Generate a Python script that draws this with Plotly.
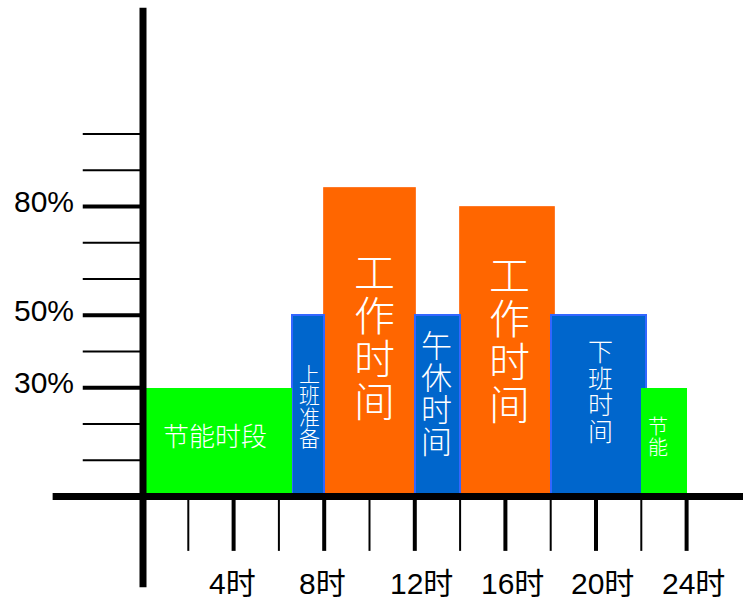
import plotly.graph_objects as go

# ---- data ----
seg_start = [0, 6.6, 8, 12, 14, 18, 22]
seg_end = [6.6, 8, 12.05, 14, 18.2, 22.2, 24]
seg_value = [30, 50, 85, 50, 80, 50, 30]
seg_kind = ["green", "blue", "orange", "blue", "orange", "blue", "green"]
seg_label = ["节能时段", "上班准备", "工作时间", "午休时间", "工作时间", "下班时间", "节能"]

y_tick_values = [10, 20, 30, 40, 50, 60, 70, 80, 90, 100]
y_label_values = [30, 50, 80]
y_label_text = ["30%", "50%", "80%"]
x_tick_values = [2, 4, 6, 8, 10, 12, 14, 16, 18, 20, 22, 24]
x_label_values = [4, 8, 12, 16, 20, 24]
x_label_text = ["4时", "8时", "12时", "16时", "20时", "24时"]

# ---- styling / layout ----
W, H = 743, 601
X0_PX, PX_PER_H = 143.0, 22.65
Y0_PX, PX_PER_PCT = 496.5, 3.625
xr = [-X0_PX / PX_PER_H, (W - X0_PX) / PX_PER_H]
yr = [-(H - Y0_PX) / PX_PER_PCT, Y0_PX / PX_PER_PCT]

fill = {"green": "#00FF00", "blue": "#0066CC", "orange": "#FF6600"}
edge = {"green": "#00FF00", "blue": "#3366FF", "orange": "#FF7A2A"}
edge_w = {"green": 0, "blue": 2, "orange": 1}

fig = go.Figure()
for kind in ["orange", "blue", "green"]:
    idx = [i for i, k in enumerate(seg_kind) if k == kind]
    fig.add_trace(go.Bar(
        x=[(seg_start[i] + seg_end[i]) / 2 for i in idx],
        y=[seg_value[i] for i in idx],
        width=[seg_end[i] - seg_start[i] for i in idx],
        marker=dict(color=fill[kind], line=dict(color=edge[kind], width=edge_w[kind])),
        hoverinfo="skip", showlegend=False,
    ))

shapes = []
# axes
shapes.append(dict(type="line", xref="x", yref="y", x0=0, x1=0, y0=-25, y1=134.8,
                   line=dict(color="black", width=7)))
shapes.append(dict(type="line", xref="x", yref="y", x0=-3.99, x1=xr[1] + 1, y0=0, y1=0,
                   line=dict(color="black", width=7)))
# y ticks
for v in y_tick_values:
    w = 4 if v in y_label_values else 2
    shapes.append(dict(type="line", xref="x", yref="y", x0=-2.66, x1=0, y0=v, y1=v,
                       line=dict(color="black", width=w)))
# x ticks
for h in x_tick_values:
    w = 4 if h % 4 == 0 else 2
    shapes.append(dict(type="line", xref="x", yref="y", x0=h, x1=h, y0=0, y1=-15,
                       line=dict(color="black", width=w)))

ann = []
num_font = dict(family="Liberation Sans, Arial, Noto Sans CJK SC", size=30, color="black")
for v, t in zip(y_label_values, y_label_text):
    ann.append(dict(x=-2.95, y=v, text=t, xref="x", yref="y", xanchor="right",
                    yanchor="middle", yshift=5, showarrow=False, font=num_font))
for h, t in zip(x_label_values, x_label_text):
    ann.append(dict(x=h - 1.18, y=-24.1, text=t, xref="x", yref="y", xanchor="left",
                    yanchor="middle", showarrow=False, font=num_font))

# in-bar labels: (x center h, y center %, font size, pitch px, vertical)
label_pos = [
    (3.18, 17.0, 26, 0, False),
    (7.37, 25.2, 21, 21.5, True),
    (10.2, 44.7, 41, 42.7, True),
    (12.97, 29.1, 31, 32, True),
    (16.2, 43.9, 41, 43, True),
    (20.18, 29.4, 25, 26.5, True),
    (22.75, 16.8, 20, 21, True),
]
cjk = "Noto Sans CJK SC"
for text, (xc, yc, fs, pitch, vert) in zip(seg_label, label_pos):
    f = dict(family=cjk, size=fs, color="white", weight=300)
    if not vert:
        ann.append(dict(x=xc, y=yc, text=text, xref="x", yref="y", showarrow=False,
                        xanchor="center", yanchor="middle", font=f))
    else:
        n = len(text)
        for i, ch in enumerate(text):
            dy = ((n - 1) / 2 - i) * pitch / PX_PER_PCT
            ann.append(dict(x=xc, y=yc + dy, text=ch, xref="x", yref="y", showarrow=False,
                            xanchor="center", yanchor="middle", font=f))

fig.update_layout(
    width=W, height=H, margin=dict(l=0, r=0, t=0, b=0),
    paper_bgcolor="white", plot_bgcolor="white",
    barmode="overlay", bargap=0,
    xaxis=dict(range=xr, visible=False, fixedrange=True),
    yaxis=dict(range=yr, visible=False, fixedrange=True),
    shapes=shapes, annotations=ann,
)
fig.write_html(
    "out.html",
    config={"displayModeBar": False},
    post_script="document.body.style.margin='0';document.body.style.overflow='hidden';",
)
